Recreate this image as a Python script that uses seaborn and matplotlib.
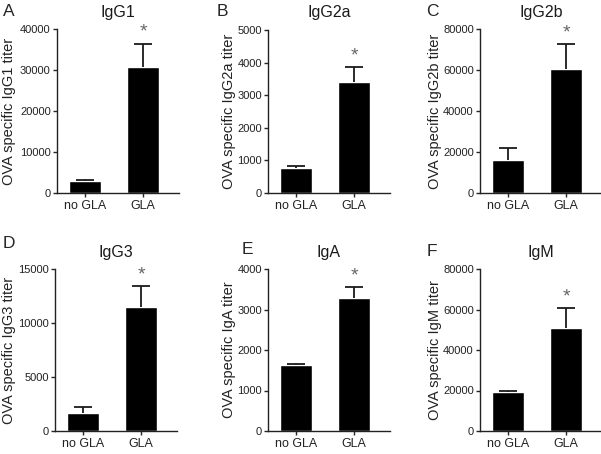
# -*- coding: utf-8 -*-

"""OVA specific antibody titers, no GLA vs GLA."""

import matplotlib.pyplot as plt
import numpy as np
import pandas as pd
import seaborn as sns

groups = ["no GLA", "GLA"]
isotypes = ["IgG1", "IgG2a", "IgG2b", "IgG3", "IgA", "IgM"]
letters = ["A", "B", "C", "D", "E", "F"]

igg1_mean = [3000, 30800]
igg1_err = [100, 5600]
igg2a_mean = [760, 3420]
igg2a_err = [60, 430]
igg2b_mean = [16000, 60500]
igg2b_err = [6000, 12000]
igg3_mean = [1700, 11500]
igg3_err = [550, 1900]
iga_mean = [1630, 3280]
iga_err = [25, 270]
igm_mean = [19200, 51000]
igm_err = [400, 9500]

y_max = [40000, 5000, 80000, 15000, 4000, 80000]
y_step = [10000, 1000, 20000, 5000, 1000, 20000]

means = [igg1_mean, igg2a_mean, igg2b_mean, igg3_mean, iga_mean, igm_mean]
errs = [igg1_err, igg2a_err, igg2b_err, igg3_err, iga_err, igm_err]

W, H = 601, 454
# axes boxes in pixels: left, top, bottom
boxes = [(57, 29, 193), (268, 30, 193), (480, 29, 193),
         (55, 269, 431), (268, 269, 431), (480, 269, 431)]
letter_pos = [(3, 11), (217, 12), (426, 12), (3, 243), (242, 250), (427, 252)]
ylabel_x = [9, 229, 435, 9, 229, 435]
ax_w = 122

sns.set_style("ticks")
plt.rcParams["font.family"] = ["Liberation Sans", "DejaVu Sans"]

fig = plt.figure(figsize=(W / 100, H / 100), dpi=100)

for i, name in enumerate(isotypes):
    left, top, bottom = boxes[i]
    ax = fig.add_axes([left / W, 1 - bottom / H, ax_w / W, (bottom - top) / H])
    df = pd.DataFrame({"group": groups, "titer": means[i]})

    sns.barplot(x="group", y="titer", data=df, color="black", width=0.54,
                errorbar=None, ax=ax, saturation=1)
    _, caps, _ = ax.errorbar([0, 1], means[i], yerr=[np.zeros(2), errs[i]],
                             fmt="none", ecolor="#1a1a1a", elinewidth=1.3,
                             capsize=6.5, capthick=1.3)
    # hide the lower caps, they sit on the bar top
    caps[0].set_visible(False)

    top_gla = means[i][1] + errs[i][1]
    ax.text(1, top_gla + 0.02 * y_max[i], "*", ha="center", va="bottom",
            fontsize=14, color="#666666")

    ax.set_xlim(-0.48, 1.62)
    ax.set_ylim(0, y_max[i])
    ax.set_yticks(np.arange(0, y_max[i] + 1, y_step[i]))
    ax.set_xlabel("")
    ax.set_ylabel("")
    ax.set_title(name, fontsize=11.5, pad=9, color="#1a1a1a")
    ax.tick_params(axis="y", labelsize=8, length=3, width=1, pad=1.5,
                   labelcolor="#222222")
    ax.tick_params(axis="x", labelsize=9, length=3, width=1, pad=2,
                   labelcolor="#222222")
    for s in ["left", "bottom"]:
        ax.spines[s].set_linewidth(1)
        ax.spines[s].set_color("#222222")
    sns.despine(ax=ax)

    fig.text(ylabel_x[i] / W, 1 - (top + bottom) / 2 / H,
             f"OVA specific {name} titer", rotation=90, ha="center",
             va="center", fontsize=10.5, color="#222222")

    lx, ly = letter_pos[i]
    fig.text(lx / W, 1 - ly / H, letters[i], fontsize=12.5, va="center",
             ha="left")

plt.savefig("out.png", dpi=100)
